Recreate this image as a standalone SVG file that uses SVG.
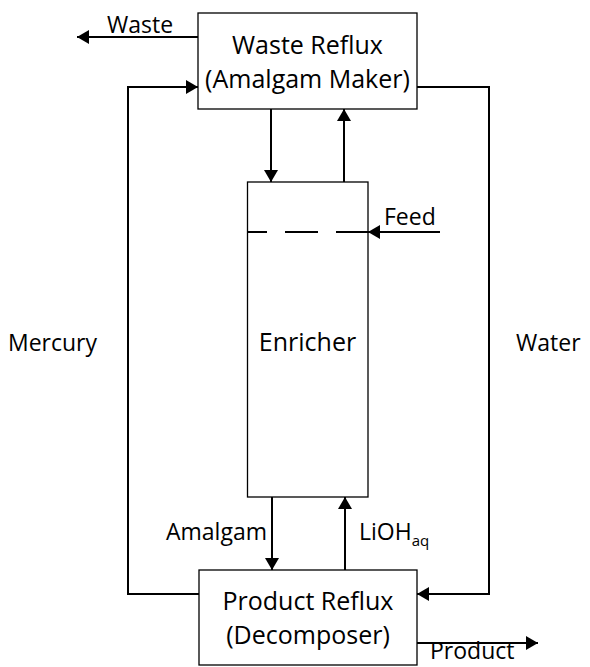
<svg xmlns="http://www.w3.org/2000/svg" width="590" height="667" viewBox="0 0 590 667">
<style>
.box{fill:#fff;stroke:#000;stroke-width:1.3}
.ln{fill:none;stroke:#000;stroke-width:2}
text{font-family:"Open Sans","Liberation Sans",sans-serif;fill:#000}
.bt{font-size:25px;text-anchor:middle}
.lb{font-size:23px}
</style>
<defs>
<marker id="ah" viewBox="0 0 12 14" refX="12" refY="7" markerWidth="12" markerHeight="14" markerUnits="userSpaceOnUse" orient="auto">
<path d="M0,0 L12,7 L0,14 Z" fill="#000"/>
</marker>
</defs>
<g id="connectors">
<line class="ln" x1="198" y1="37" x2="77" y2="37" marker-end="url(#ah)"/>
<polyline class="ln" points="199,594 128,594 128,87 198,87" marker-end="url(#ah)"/>
<polyline class="ln" points="417,87 489,87 489,594 417,594" marker-end="url(#ah)"/>
<line class="ln" x1="271" y1="109" x2="271" y2="182" marker-end="url(#ah)"/>
<line class="ln" x1="344" y1="182" x2="344" y2="109" marker-end="url(#ah)"/>
<line class="ln" x1="440" y1="232" x2="368" y2="232" marker-end="url(#ah)"/>
<line class="ln" x1="272" y1="497" x2="272" y2="570" marker-end="url(#ah)"/>
<line class="ln" x1="345" y1="570" x2="345" y2="497" marker-end="url(#ah)"/>
<line class="ln" x1="417" y1="643" x2="538" y2="643" marker-end="url(#ah)"/>
</g>
<g id="waste-reflux">
<rect class="box" x="198" y="13" width="219" height="96"/>
<text class="bt" x="307.5" y="54">Waste Reflux</text>
<text class="bt" x="307.5" y="88">(Amalgam Maker)</text>
</g>
<g id="enricher">
<rect class="box" x="247.5" y="182" width="120.5" height="315"/>
<path class="ln" d="M247.5,232 H267 M285,232 H318 M336,232 H368" stroke-width="2.5"/>
<text class="bt" x="307.5" y="351">Enricher</text>
</g>
<g id="product-reflux">
<rect class="box" x="199" y="570" width="218" height="95"/>
<text class="bt" x="308" y="610">Product Reflux</text>
<text class="bt" x="308" y="644">(Decomposer)</text>
</g>
<g id="labels">
<text class="lb" x="107" y="33">Waste</text>
<text class="lb" x="384" y="225">Feed</text>
<text class="lb" x="8" y="351">Mercury</text>
<text class="lb" x="516" y="351" font-size="24">Water</text>
<text class="lb" x="166" y="540" font-size="22">Amalgam</text>
<text class="lb" x="359" y="540" font-size="22">LiOH<tspan font-size="15" dy="6">aq</tspan></text>
<text class="lb" x="430" y="659" font-size="24">Product</text>
</g>
</svg>
